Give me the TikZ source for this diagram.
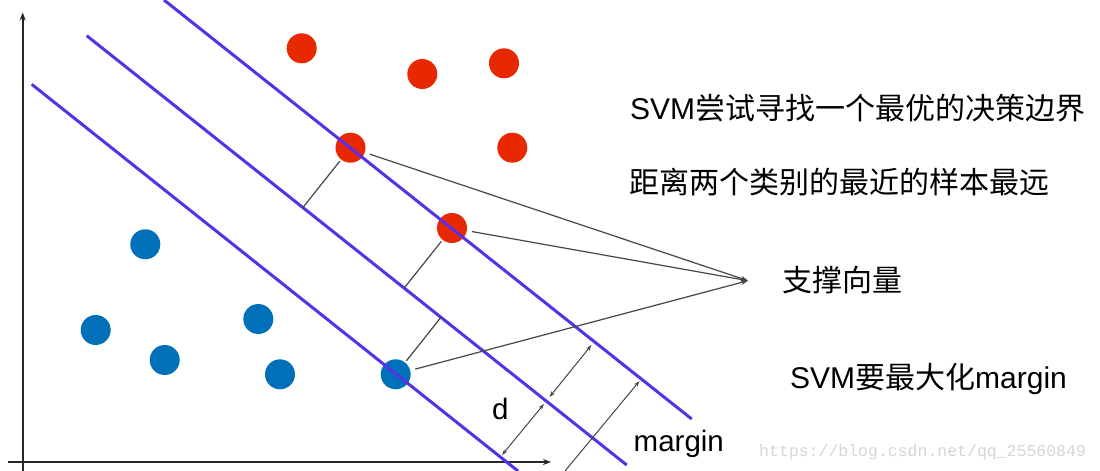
\documentclass[tikz,border=0pt]{standalone}
\usepackage{fontspec}
\setmainfont{Liberation Sans}
\newfontfamily\cjk{Noto Sans CJK SC}
\newfontfamily\wmfont{Liberation Mono}
\usetikzlibrary{arrows.meta,calc}
\definecolor{dotred}{RGB}{232,40,0}
\definecolor{dotblue}{RGB}{0,112,184}
\definecolor{svmline}{RGB}{85,50,230}
\definecolor{connc}{RGB}{70,70,70}
\definecolor{wmgray}{RGB}{214,214,210}
\begin{document}
\begin{tikzpicture}[x=1pt,y=-1pt,
  dotr/.style={circle, fill=dotred, minimum size=30pt, inner sep=0pt, draw=none},
  dotb/.style={circle, fill=dotblue, minimum size=30pt, inner sep=0pt, draw=none},
  sepline/.style={svmline, line width=3pt},
  axisline/.style={line width=2.4pt, black!85, -{Stealth[length=8pt,width=6pt]}},
  conn/.style={connc, line width=1.2pt},
  svarrow/.style={conn, shorten <=5pt, -{Stealth[length=7pt,width=5pt]}},
  dimarrow/.style={connc, line width=1pt, {Stealth[length=6pt,width=4pt]}-{Stealth[length=6pt,width=4pt]}},
  onearrow/.style={connc, line width=1pt, -{Stealth[length=6pt,width=4pt]}},
  txt/.style={anchor=base west, inner sep=0pt, font=\fontsize{30}{36}\selectfont},
  lbl/.style={anchor=base west, inner sep=0pt, font=\fontsize{29.5}{34}\selectfont}
]
\useasboundingbox (0,0) rectangle (1100,471);
\fill[white] (0,0) rectangle (1100,471);

% axes
\coordinate (yb) at (22.7,471);
\coordinate (yt) at (22.7,12.5);
\coordinate (xl) at (8,462);
\coordinate (xr) at (551,462);
\draw[axisline] (yb) -- (yt);
\draw[axisline] (xl) -- (xr);

% red points
\node[dotr] (r1) at (301.7,48.3) {};
\node[dotr] (r2) at (422.3,74) {};
\node[dotr] (r3) at (504,63.3) {};
\node[dotr] (r4) at (350.5,147.7) {};
\node[dotr] (r5) at (512.3,147.7) {};
\node[dotr] (r6) at (452,228) {};

% blue points
\node[dotb] (b1) at (145.3,244.3) {};
\node[dotb] (b2) at (95.7,330) {};
\node[dotb] (b3) at (164.7,360) {};
\node[dotb] (b4) at (258.3,319) {};
\node[dotb] (b5) at (280,374.3) {};
\node[dotb] (b6) at (395.7,374.3) {};

% separating lines
\coordinate (l1a) at (31.7,84.3);
\coordinate (l1b) at (518,471);
\coordinate (l2a) at (86.7,35.7);
\coordinate (l2b) at (626.7,465);
\coordinate (l3a) at (164,0);
\coordinate (l3b) at (691.7,419);
\draw[sepline] (l1a) -- (l1b);
\draw[sepline] (l2a) -- (l2b);
\draw[sepline] (l3a) -- (l3b);

% perpendiculars to the middle line
\coordinate (f1) at ($(l2a)!(r4)!(l2b)$);
\coordinate (f2) at ($(l2a)!(r6)!(l2b)$);
\coordinate (f3) at ($(l2a)!(b6)!(l2b)$);
\draw[conn, shorten <=2pt] (r4) -- (f1);
\draw[conn, shorten <=2pt] (r6) -- (f2);
\draw[conn, shorten <=2pt] (b6) -- (f3);

% support vector pointers
\coordinate (sv) at (748,280.7);
\draw[svarrow] (r4) -- (sv);
\draw[svarrow] (r6) -- (sv);
\draw[svarrow] (b6) -- (sv);

% distance arrows
\coordinate (d1a) at (502,455);
\coordinate (d1b) at (544,404);
\coordinate (d2a) at (549.5,397);
\coordinate (d2b) at (591.5,345);
\coordinate (m1a) at (565,471);
\coordinate (m1b) at (639.5,381);
\draw[dimarrow] (d1a) -- (d1b);
\draw[dimarrow] (d2a) -- (d2b);
\draw[onearrow] (m1a) -- (m1b);

\node[lbl] (dlab) at (492,419) {d};
\node[lbl] (mlab) at (633.5,451.7) {margin};

% texts
\node[txt] (t1) at (630,119.3) {SVM{\cjk 尝试寻找一个最优的决策边界}};
\node[txt] (t2) at (629,193) {\cjk 距离两个类别的最近的样本最远};
\node[txt] (t3) at (782,291) {\cjk 支撑向量};
\node[txt] (t4) at (790,388.3) {SVM{\cjk 要最大化}margin};

% watermark
\node[anchor=base west, inner sep=0pt, text=wmgray, font=\wmfont\fontsize{16.5}{20}\selectfont] (wm) at (759,456.7) {https://blog.csdn.net/qq\_25560849};
\end{tikzpicture}
\end{document}
